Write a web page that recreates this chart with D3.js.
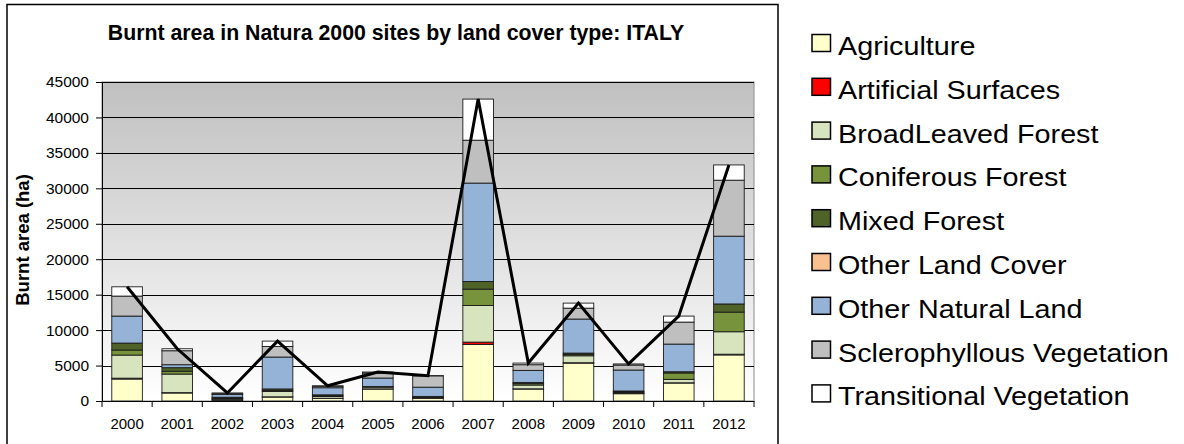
<!DOCTYPE html>
<html><head><meta charset="utf-8">
<script src="https://cdn.jsdelivr.net/npm/d3@7"></script>
<style>
html,body{margin:0;padding:0;background:#fff;}
text{font-family:"Liberation Sans",Arial,sans-serif;}
</style></head>
<body>
<svg id="chart" width="1184" height="444"></svg>
<script>
const years = ["2000","2001","2002","2003","2004","2005","2006","2007","2008","2009","2010","2011","2012"];
const seriesNames = ["Agriculture","Artificial Surfaces","BroadLeaved Forest","Coniferous Forest","Mixed Forest","Other Land Cover","Other Natural Land","Sclerophyllous Vegetation","Transitional Vegetation"];
const agriculture   = [3100,1130,150,560,350,1690,370,7980,1690,5350,1030,2540,6500];
const artificial    = [120,50,30,30,20,20,30,330,30,50,30,30,100];
const broadleaved   = [3260,2620,150,760,250,250,100,5160,530,980,150,480,3170];
const coniferous    = [710,400,80,150,100,50,80,2310,200,200,100,900,2770];
const mixed         = [980,500,120,200,150,30,70,1080,170,180,100,180,1150];
const otherLand     = [0,0,0,0,0,0,0,0,0,0,0,0,0];
const otherNatural  = [3810,420,400,4500,1000,1200,1300,13880,1700,4800,2960,3900,9560];
const sclerophyllous= [2820,1970,150,1500,200,700,1600,6050,800,1540,700,3100,7900];
const transitional  = [1310,280,50,750,80,150,20,5800,230,710,160,850,2150];
const yTicks = [0,5000,10000,15000,20000,25000,30000,35000,40000,45000];
const colors = ["#FFFFCC","#FF0000","#D7E4BD","#77933C","#4F6228","#FAC090","#95B3D7","#BFBFBF","#FFFFFF"];

const seriesValues = [agriculture,artificial,broadleaved,coniferous,mixed,otherLand,otherNatural,sclerophyllous,transitional];
const rows = years.map((yr,i)=>{const r={year:yr}; seriesNames.forEach((n,k)=>r[n]=seriesValues[k][i]); return r;});
const totals = years.map((yr,i)=>d3.sum(seriesValues,s=>s[i]));

const svg = d3.select("#chart");
// outer frame
svg.append("rect").attr("x",7).attr("y",4.5).attr("width",771).attr("height",460)
  .attr("fill","#fff").attr("stroke","#000").attr("stroke-width",1.5);

const pL=102, pR=754, pT=82, pB=401;
const x = d3.scaleBand().domain(years).range([pL,pR]).paddingInner(0.39).paddingOuter(0.195);
const y = d3.scaleLinear().domain([0,45000]).range([pB,pT]);

const defs = svg.append("defs");
const g = defs.append("linearGradient").attr("id","bg").attr("x1",0).attr("y1",0).attr("x2",0).attr("y2",1);
g.append("stop").attr("offset","0%").attr("stop-color","#c0c0c0");
g.append("stop").attr("offset","100%").attr("stop-color","#ffffff");

svg.append("rect").attr("x",pL).attr("y",pT).attr("width",pR-pL).attr("height",pB-pT)
  .attr("fill","url(#bg)").attr("stroke","#8c8c8c").attr("stroke-width",1);

// gridlines
svg.append("g").selectAll("line").data(yTicks.filter(t=>t>0)).join("line")
  .attr("x1",pL).attr("x2",pR).attr("y1",d=>Math.round(y(d))+0.5).attr("y2",d=>Math.round(y(d))+0.5)
  .attr("stroke","#000").attr("stroke-width",1);

// stacked bars
const stack = d3.stack().keys(seriesNames)(rows);
svg.append("g").selectAll("g").data(stack).join("g")
  .attr("fill",(d,i)=>colors[i])
  .selectAll("rect").data(d=>d.filter(p=>p[1]-p[0]>0)).join("rect")
  .attr("x",d=>x(d.data.year)).attr("width",x.bandwidth())
  .attr("y",d=>y(d[1])).attr("height",d=>y(d[0])-y(d[1]))
  .attr("stroke","#1a1a1a").attr("stroke-width",0.9);

// total line
svg.append("path").datum(years.map((yr,i)=>[x(yr)+x.bandwidth()/2, y(totals[i])]))
  .attr("d",d3.line()).attr("fill","none").attr("stroke","#000").attr("stroke-width",3).attr("stroke-linejoin","miter");

// y axis
const yAxis = svg.append("g").attr("transform",`translate(${pL},0)`)
  .call(d3.axisLeft(y).tickValues(yTicks).tickFormat(d3.format("d")).tickSize(6).tickPadding(7));
yAxis.select(".domain").attr("stroke","#000");
yAxis.selectAll("text").attr("font-size","15.5px").attr("fill","#000").style("font-family","'Liberation Sans',Arial,sans-serif");

// x axis
const xAxis = svg.append("g").attr("transform",`translate(0,${pB})`)
  .call(d3.axisBottom(x).tickSize(0).tickPadding(17));
xAxis.select(".domain").attr("stroke","#000");
xAxis.selectAll("text").attr("font-size","15px").attr("fill","#000").style("font-family","'Liberation Sans',Arial,sans-serif");
const bounds = years.map(yr=>x(yr)-x.step()*x.paddingInner()/2).concat([pR]);
svg.append("g").selectAll("line").data(bounds).join("line")
  .attr("x1",d=>d).attr("x2",d=>d).attr("y1",pB).attr("y2",pB+6).attr("stroke","#000");

// title
svg.append("text").attr("x",396).attr("y",40).attr("text-anchor","middle")
  .attr("font-size","21.3px").attr("font-weight","bold").text("Burnt area in Natura 2000 sites by land cover type: ITALY");

// y label
svg.append("text").attr("transform","translate(29,240) rotate(-90)").attr("text-anchor","middle")
  .attr("font-size","18.5px").attr("font-weight","bold").text("Burnt area (ha)");

// legend
const lg = svg.append("g").selectAll("g").data(seriesNames).join("g")
  .attr("transform",(d,i)=>`translate(812,${34.5+i*43.8})`);
lg.append("rect").attr("width",18.5).attr("height",17).attr("fill",(d,i)=>colors[i]).attr("stroke","#000").attr("stroke-width",1.5);
lg.append("text").attr("transform","translate(26,20.5) scale(1.15,1)").attr("font-size","25px").attr("fill","#000").text(d=>d);
</script>
</body></html>
